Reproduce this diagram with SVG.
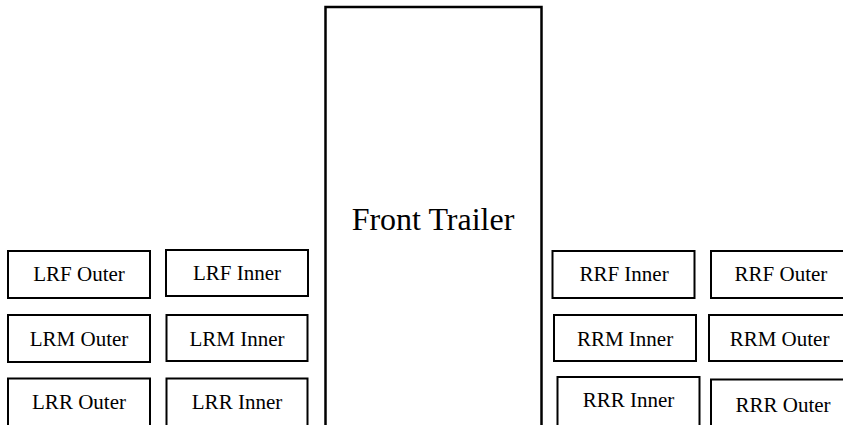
<svg xmlns="http://www.w3.org/2000/svg" width="843" height="425" viewBox="0 0 843 425">
<style>
rect{fill:#fff;stroke:#000;stroke-width:2}
text{font-family:"Liberation Serif","Times New Roman",serif;font-size:21px;fill:#000;text-anchor:middle}
.big{font-size:32px}
</style>
<rect width="843" height="425" style="stroke:none"/>
<g id="front-trailer"><rect x="325.5" y="7" width="216" height="430" style="stroke-width:2.5"/><text class="big" x="433" y="230">Front Trailer</text></g>
<g id="lrf-outer"><rect x="8" y="251" width="142" height="47"/><text x="79" y="281">LRF Outer</text></g>
<g id="lrf-inner"><rect x="166" y="250" width="142" height="46"/><text x="237" y="280">LRF Inner</text></g>
<g id="lrm-outer"><rect x="8" y="315" width="142" height="47"/><text x="79" y="346">LRM Outer</text></g>
<g id="lrm-inner"><rect x="166.5" y="315" width="141" height="46"/><text x="237" y="346">LRM Inner</text></g>
<g id="lrr-outer"><rect x="8" y="378.5" width="142" height="60"/><text x="79" y="409">LRR Outer</text></g>
<g id="lrr-inner"><rect x="166.5" y="378.5" width="141" height="60"/><text x="237" y="409">LRR Inner</text></g>
<g id="rrf-inner"><rect x="552.5" y="251" width="142" height="47"/><text x="624" y="281">RRF Inner</text></g>
<g id="rrf-outer"><rect x="711" y="251" width="142" height="47"/><text x="781" y="281">RRF Outer</text></g>
<g id="rrm-inner"><rect x="554" y="315" width="142" height="46"/><text x="625" y="346">RRM Inner</text></g>
<g id="rrm-outer"><rect x="709" y="315" width="144" height="46"/><text x="779.5" y="346">RRM Outer</text></g>
<g id="rrr-inner"><rect x="557.5" y="377" width="142" height="60"/><text x="628.5" y="407">RRR Inner</text></g>
<g id="rrr-outer"><rect x="711" y="379.5" width="142" height="60"/><text x="783" y="411.5">RRR Outer</text></g>
<g id="connectors"></g>
</svg>
